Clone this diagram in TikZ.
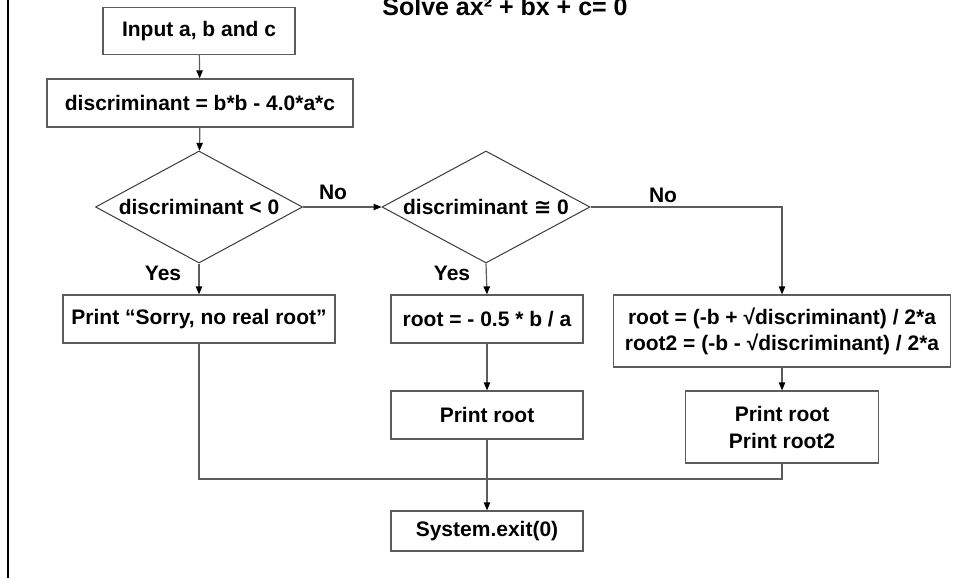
\documentclass[tikz,border=0pt]{standalone}
\usepackage{fontspec}
\setmainfont{Liberation Sans}
\newfontfamily\symfont{DejaVu Sans}
\usetikzlibrary{arrows.meta, shapes.geometric}
\definecolor{fline}{HTML}{5C5C5C}
\definecolor{fedge}{HTML}{3A3A3A}

\begin{document}
\begin{tikzpicture}[x=0.5pt, y=-0.5pt,
    txt/.style={font=\fontsize{10.5}{13}\selectfont\bfseries, text=black},
    stepbox/.style={txt, rectangle, draw=fline, line width=0.6pt, inner sep=0pt, align=center},
    testbox/.style={txt, diamond, aspect=1.85, draw=fedge, line width=0.5pt, inner sep=0pt},
    flow/.style={draw=fline, line width=0.6pt},
    arr/.style={flow, -{Triangle[length=4pt, width=3.2pt, color=black]}}
  ]

  \useasboundingbox (0,0) rectangle (956,578);

  %% frame edge and title
  \draw[line width=1.2pt] (8,0) -- (8,578);
  \node[font=\fontsize{12.5}{14}\selectfont\bfseries, anchor=base] (title) at (505,15)
    {Solve ax² + bx + c= 0};

  %% input and discriminant
  \node[stepbox, minimum width=96pt, minimum height=23.5pt] (input) at (199,31) {Input a, b and c};
  \node[stepbox, minimum width=153pt, minimum height=24pt] (disc) at (200,103)
    {discriminant = b*b - 4.0*a*c};

  %% tests
  \node[testbox, minimum width=103.5pt, minimum height=56pt] (neg) at (199,207) {discriminant < 0};
  \node[testbox, minimum width=104pt, minimum height=56pt] (zero) at (486,207)
    {discriminant {\symfont\bfseries ≅} 0};

  %% branches
  \node[stepbox, minimum width=136pt, minimum height=24pt] (sorry) at (199,319)
    {Print “Sorry, no real root”};
  \node[stepbox, minimum width=96pt, minimum height=24pt] (one) at (487,319) {root = - 0.5 * b / a};
  \node[stepbox, minimum width=168.5pt, minimum height=36pt] (two) at (782,331)
    {root = (-b + √discriminant) / 2*a\\root2 = (-b - √discriminant) / 2*a};
  \node[stepbox, minimum width=96pt, minimum height=24pt] (printone) at (487,415) {Print root};
  \node[stepbox, minimum width=96.5pt, minimum height=36pt, font=\fontsize{10.5}{13.5}\selectfont\bfseries]
    (printtwo) at (782,427) {Print root\\Print root2};
  \node[stepbox, minimum width=96pt, minimum height=20pt] (exit) at (487,531) {System.exit(0)};

  %% branch labels
  \node[txt] (noa) at (333,192) {No};
  \node[txt] (nob) at (663,195) {No};
  \node[txt] (yesa) at (163,273) {Yes};
  \node[txt] (yesb) at (452,273) {Yes};

  %% connectors
  \coordinate (join) at (487,479);
  \draw[arr] (input) -- (disc);
  \draw[arr] (disc) -- (neg);
  \draw[arr] (neg.east) -- (zero.west);
  \draw[arr] (zero.east) -| (two.north);
  \draw[arr] (neg.south) -- (sorry.north);
  \draw[arr] (zero.south) -- (one.north);
  \draw[arr] (one) -- (printone);
  \draw[arr] (two) -- (printtwo);
  \draw[flow] (sorry.south) |- (join) -| (printtwo.south);
  \draw[arr] (printone) -- (exit);

\end{tikzpicture}
\end{document}
